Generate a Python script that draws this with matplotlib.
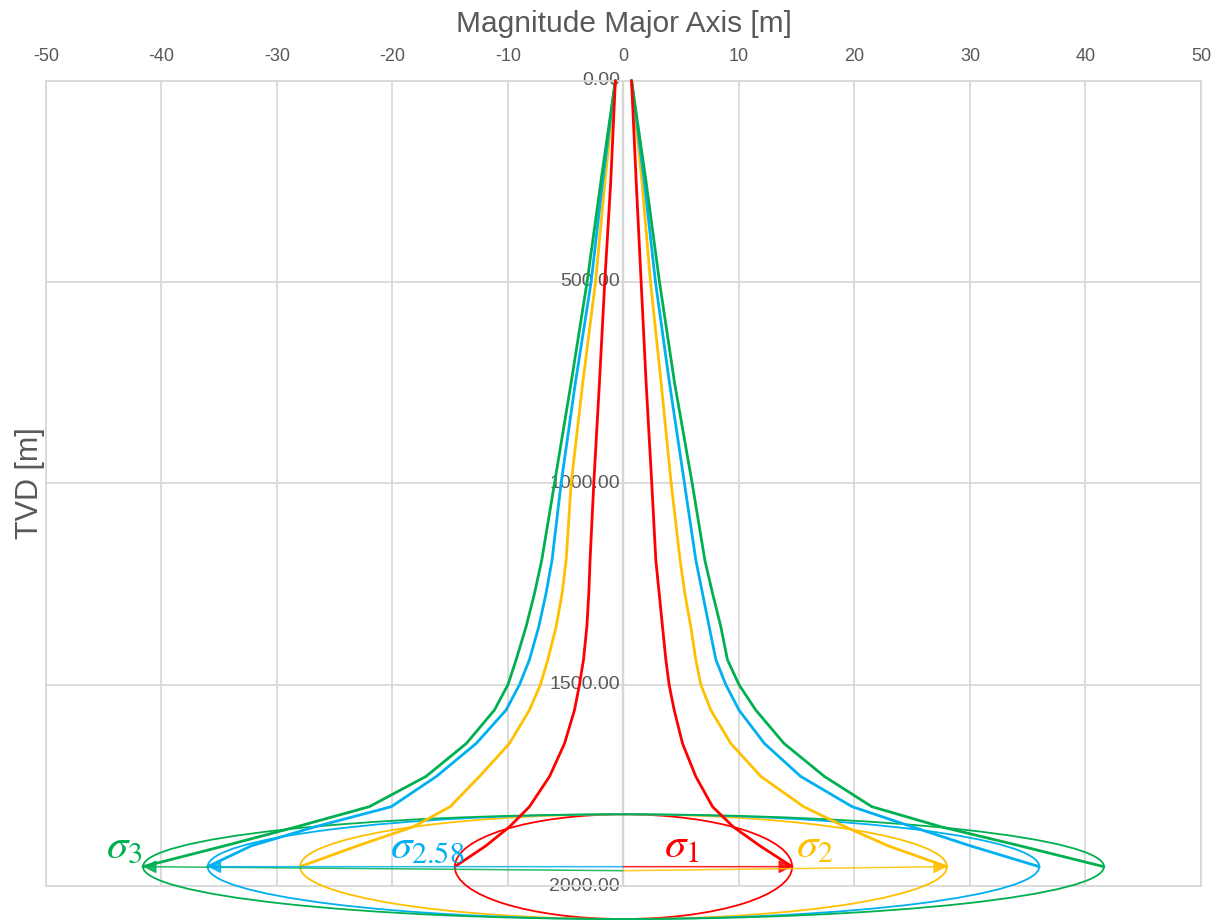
import matplotlib.pyplot as plt
from matplotlib.patches import Ellipse

plt.rcParams['font.family'] = ['Liberation Sans', 'DejaVu Sans']
plt.rcParams['mathtext.fontset'] = 'stix'
plt.rcParams['axes.unicode_minus'] = False

# ── Data ──────────────────────────────────────────────────────────────────────
depth = [0, 250, 500, 750, 1000, 1190, 1273, 1356, 1438, 1500, 1563, 1646, 1728,
         1803, 1853, 1900, 1952]

red_right    = [0.7, 1.1, 1.53, 1.96, 2.45, 2.8, 3.09, 3.38, 3.67, 3.95, 4.39, 5.11, 6.26,
                7.71, 9.5, 11.8, 14.6]
red_left     = [-0.7, -1.1, -1.62, -2.08, -2.57, -2.89, -3.0, -3.17, -3.46, -3.81, -4.24, -5.1, -6.4,
                -8.14, -9.87, -11.9, -14.6]
yellow_right = [0.7, 1.6, 2.34, 3.26, 4.13, 4.9, 5.31, 5.83, 6.26, 6.7, 7.56, 9.29, 11.9,
                15.6, 19.2, 22.9, 28.0]
yellow_left  = [-0.7, -1.6, -2.42, -3.52, -4.53, -4.96, -5.31, -5.83, -6.55, -7.19, -8.14, -9.87, -12.47,
                -15.0, -18.2, -23.0, -28.0]
blue_right   = [0.7, 1.8, 2.77, 3.98, 5.28, 6.26, 6.84, 7.42, 8.0, 8.86, 10.0, 12.2, 15.35,
                19.8, 25.0, 30.0, 36.0]
blue_left    = [-0.7, -1.8, -2.8, -4.16, -5.4, -6.18, -6.7, -7.33, -8.14, -9.0, -10.16, -12.75, -16.2,
                -20.1, -26.7, -32.2, -36.0]
green_right  = [0.7, 1.95, 3.12, 4.42, 5.95, 7.04, 7.71, 8.43, 9.0, 10.0, 11.45, 13.9, 17.4,
                21.5, 27.5, 34.3, 41.6]
green_left   = [-0.7, -1.95, -3.15, -4.53, -5.97, -7.07, -7.7, -8.43, -9.29, -10.0, -11.17, -13.6, -17.1,
                -22.0, -28.3, -34.5, -41.6]

# ellipse at the target depth: semi-major per sigma level, shared semi-minor
ellipse_depth = 1952
semi_major = {'red': 14.6, 'yellow': 28.0, 'blue': 36.0, 'green': 41.6}
semi_minor = 130

x_ticks = [-50, -40, -30, -20, -10, 0, 10, 20, 30, 40, 50]
y_ticks = [0, 500, 1000, 1500, 2000]

colors = {'red': '#FF0000', 'yellow': '#FFC000', 'blue': '#00B0F0', 'green': '#00B050'}
grid_c = '#D9D9D9'
text_c = '#595959'

# ── Figure ────────────────────────────────────────────────────────────────────
fig = plt.figure(figsize=(12.22, 9.21), dpi=100)
ax = fig.add_axes([0.0376, 0.038, 0.9452, 0.8745])
ax.set_xlim(-50, 50)
ax.set_ylim(2000, 0)

ax.set_xticks(x_ticks)
ax.set_yticks(y_ticks)
ax.xaxis.tick_top()
ax.xaxis.set_label_position('top')
ax.tick_params(axis='x', length=0, pad=11, labelsize=13, labelcolor=text_c)
ax.tick_params(axis='y', length=0, labelleft=False)
ax.grid(True, color=grid_c, lw=1.3, zorder=0)
for s in ax.spines.values():
    s.set_color(grid_c)
    s.set_linewidth(1.3)
ax.axvline(0, color='#BFBFBF', lw=1.6, zorder=1)

# depth labels sit against the centre axis
for v in y_ticks:
    ax.text(-0.3, v, f'{v:.2f}', ha='right', va='center', fontsize=14,
            color=text_c, zorder=2)

ax.set_xlabel('Magnitude Major Axis [m]', fontsize=21.5, color=text_c, labelpad=12)
ax.set_ylabel('TVD [m]', fontsize=22, color=text_c, labelpad=1)

# ellipses
for key in ['red', 'yellow', 'blue', 'green']:
    a = semi_major[key]
    ax.add_patch(Ellipse((0, ellipse_depth), 2 * a, 2 * semi_minor, fill=False,
                         ec=colors[key], lw=1.3, clip_on=False, zorder=3))

# funnels
curves = [('yellow', yellow_right, yellow_left), ('blue', blue_right, blue_left),
          ('green', green_right, green_left), ('red', red_right, red_left)]
for key, right, left in curves:
    for xs in (right, left):
        ax.plot(xs, depth, color=colors[key], lw=2.0, zorder=4, clip_on=False,
                solid_capstyle='round', solid_joinstyle='round')

# major-axis arrows
arrows = [('green', -1, 1962), ('blue', -1, 1952), ('red', 1, 1952), ('yellow', 1, 1962)]
for key, side, y0 in arrows:
    ax.annotate('', xy=(side * semi_major[key], ellipse_depth), xytext=(0, y0),
                arrowprops=dict(arrowstyle='-|>', color=colors[key], lw=1.1,
                                mutation_scale=20, shrinkA=0, shrinkB=0, alpha=0.85),
                zorder=5, annotation_clip=False)

# sigma labels
label_kw = dict(fontsize=31, ha='left', va='baseline', zorder=6)
ax.text(-44.8, 1928, r'$\sigma_3$', color=colors['green'], **label_kw)
ax.text(-20.2, 1928, r'$\sigma_{2.58}$', color=colors['blue'], **label_kw)
ax.text(3.5, 1928, r'$\sigma_1$', color=colors['red'], **label_kw)
ax.text(14.9, 1928, r'$\sigma_2$', color=colors['yellow'], **label_kw)

plt.savefig('out.png', dpi=100)
plt.close()
